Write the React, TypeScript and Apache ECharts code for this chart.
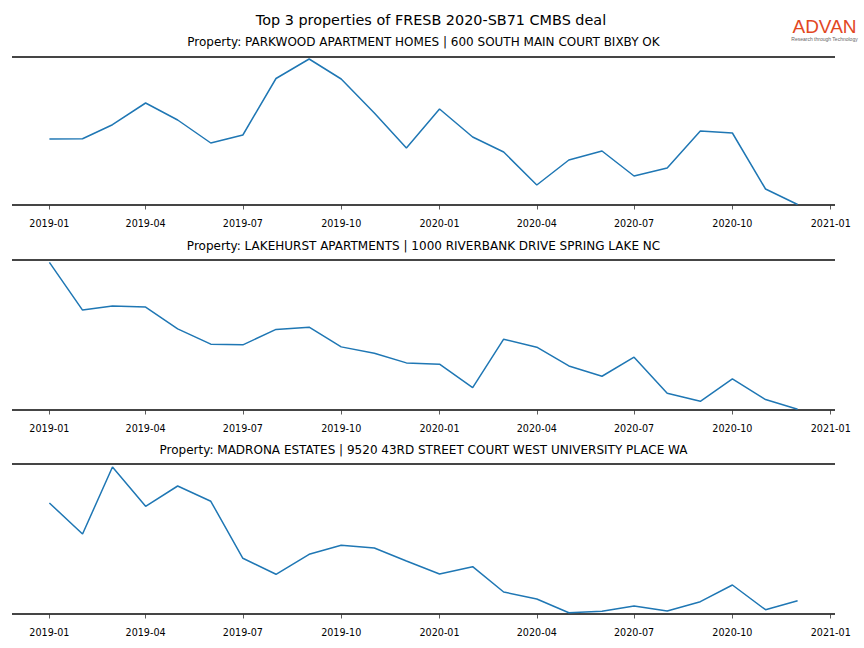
import React, { useEffect, useRef } from "react";
import * as echarts from "echarts";

const months = [
  "2019-01", "2019-02", "2019-03", "2019-04", "2019-05", "2019-06",
  "2019-07", "2019-08", "2019-09", "2019-10", "2019-11", "2019-12",
  "2020-01", "2020-02", "2020-03", "2020-04", "2020-05", "2020-06",
  "2020-07", "2020-08", "2020-09", "2020-10", "2020-11", "2020-12",
];

const parkwood = [66, 66.3, 80.3, 102, 85, 62, 70, 126.5, 146, 126, 92, 57, 96, 68, 53, 20, 45, 54, 29, 37, 74, 72, 16, 0.5];
const lakehurst = [147.4, 99.7, 103.7, 102.7, 81, 65.7, 65, 80.4, 82.7, 63, 56.7, 47, 45.7, 22.4, 70.7, 62.7, 44, 33.7, 52.7, 16.7, 8.7, 31, 10.4, 0.7];
const madrona = [111, 80, 147, 107.7, 128, 112.7, 55.7, 39.7, 59.7, 68.7, 66, 53, 40, 47.3, 22, 15, 1.3, 2.7, 8, 3, 12.3, 29, 4.3, 13.3];

const axisMaxes = [148, 149.7, 150];

const tickLabels = ["2019-01", "2019-04", "2019-07", "2019-10", "2020-01", "2020-04", "2020-07", "2020-10", "2021-01"];

const mainTitle = "Top 3 properties of FRESB 2020-SB71 CMBS deal";
const subTitles = [
  "Property: PARKWOOD APARTMENT HOMES | 600 SOUTH MAIN COURT BIXBY OK",
  "Property: LAKEHURST APARTMENTS | 1000 RIVERBANK DRIVE SPRING LAKE NC",
  "Property: MADRONA ESTATES | 9520 43RD STREET COURT WEST UNIVERSITY PLACE WA",
];

const seriesData = [parkwood, lakehurst, madrona];

const ts = (m: string) => {
  const [y, mo] = m.split("-").map(Number);
  return Date.UTC(y, mo - 1, 1);
};

const DAY = 86400000;
const xMin = ts(months[0]) - 35 * DAY;
const xMax = ts(months[months.length - 1]) + 35 * DAY;
const tickTs = tickLabels.map(ts);

const fmt = (v: number) => {
  const d = new Date(v);
  return `${d.getUTCFullYear()}-${String(d.getUTCMonth() + 1).padStart(2, "0")}`;
};

const gridTops = [57, 260, 464];
const gridHeights = [148, 150, 150];
const subTitleY = [42, 246, 450];
const FONT = "DejaVu Sans";

export default function App() {
  const ref = useRef<HTMLDivElement>(null);
  useEffect(() => {
    if (!ref.current) return;
    const chart = echarts.init(ref.current, null, { renderer: "svg" });
    const option: any = {
      animation: false,
      backgroundColor: "#ffffff",
      textStyle: { fontFamily: FONT },
      grid: gridTops.map((t, i) => ({ left: 12, right: 29, top: t, height: gridHeights[i] })),
      xAxis: gridTops.map((_, i) => ({
        type: "value",
        gridIndex: i,
        min: xMin,
        max: xMax,
        offset: 7,
        axisLine: { show: false },
        axisTick: { show: true, length: 4.5, customValues: tickTs, lineStyle: { color: "#333", width: 0.8 } },
        axisLabel: {
          customValues: tickTs,
          formatter: (v: number) => fmt(v),
          fontSize: 9.6,
          color: "#000",
          margin: 6,
          fontFamily: FONT,
        },
        splitLine: { show: false },
      })),
      yAxis: gridTops.map((_, i) => ({
        type: "value",
        gridIndex: i,
        min: 0,
        max: axisMaxes[i],
        interval: axisMaxes[i],
        axisLabel: { show: false },
        axisLine: { show: false },
        axisTick: { show: false },
        splitLine: { show: true, lineStyle: { color: "#454545", width: 2 } },
      })),
      series: seriesData.map((vals, i) => ({
        type: "line",
        xAxisIndex: i,
        yAxisIndex: i,
        data: months.map((m, j) => [ts(m), vals[j]]),
        showSymbol: false,
        lineStyle: { color: "#1f77b4", width: 1.5 },
        z: 3,
      })),
      graphic: [
        {
          type: "text",
          x: 431,
          y: 20,
          style: { text: mainTitle, font: `14.4px "${FONT}"`, fill: "#000", align: "center", verticalAlign: "middle" },
        },
        ...subTitles.map((s, i) => ({
          type: "text",
          x: 423.5,
          y: subTitleY[i],
          style: { text: s, font: `12px "${FONT}"`, fill: "#000", align: "center", verticalAlign: "middle" },
        })),
        {
          type: "text",
          x: 824.5,
          y: 26.5,
          style: { text: "ADVAN", font: `500 19px "Liberation Sans"`, lineHeight: 14, fill: "#e2481f", align: "center", verticalAlign: "middle" },
        },
        {
          type: "text",
          x: 824.5,
          y: 38.5,
          style: { text: "Research through Technology", font: `5px "Liberation Sans"`, lineHeight: 6, fill: "#666", align: "center", verticalAlign: "middle" },
        },
      ],
    };
    chart.setOption(option);
    return () => chart.dispose();
  }, []);
  return <div ref={ref} style={{ position: "fixed", left: 0, top: 0, width: 864, height: 648 }} />;
}
